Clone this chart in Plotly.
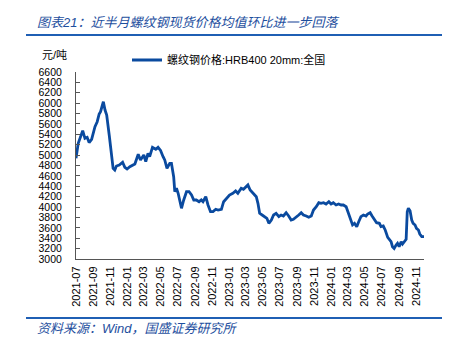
import plotly.graph_objects as go

# 螺纹钢价格:HRB400 20mm:全国 (元/吨)
dates = [
    "2021-07-01", "2021-07-09", "2021-07-25", "2021-08-02", "2021-08-10", "2021-08-17",
    "2021-08-26", "2021-09-07", "2021-09-15", "2021-09-22", "2021-09-27", "2021-10-07",
    "2021-10-13", "2021-10-19", "2021-10-28", "2021-11-04", "2021-11-11", "2021-11-17",
    "2021-11-23", "2021-12-03", "2021-12-15", "2021-12-23", "2021-12-31", "2022-01-10",
    "2022-01-28", "2022-02-09", "2022-02-17", "2022-03-01", "2022-03-08", "2022-03-16",
    "2022-03-22", "2022-04-01", "2022-04-13", "2022-04-21", "2022-04-30", "2022-05-09",
    "2022-05-15", "2022-05-23", "2022-06-02", "2022-06-08", "2022-06-16", "2022-06-20",
    "2022-06-26", "2022-07-02", "2022-07-08", "2022-07-14", "2022-07-22", "2022-08-01",
    "2022-08-10", "2022-08-19", "2022-08-27", "2022-09-05", "2022-09-15", "2022-09-23",
    "2022-09-29", "2022-10-09", "2022-10-17", "2022-10-26", "2022-11-04", "2022-11-14",
    "2022-11-22", "2022-12-04", "2022-12-12", "2022-12-22", "2023-01-02", "2023-01-14",
    "2023-01-24", "2023-02-01", "2023-02-13", "2023-02-21", "2023-03-03", "2023-03-09",
    "2023-03-17", "2023-03-27", "2023-04-08", "2023-04-14", "2023-04-20", "2023-04-29",
    "2023-05-08", "2023-05-16", "2023-05-23", "2023-06-01", "2023-06-09", "2023-06-18",
    "2023-06-28", "2023-07-06", "2023-07-14", "2023-07-24", "2023-08-02", "2023-08-11",
    "2023-08-19", "2023-08-29", "2023-09-07", "2023-09-16", "2023-09-24", "2023-10-04",
    "2023-10-13", "2023-10-22", "2023-10-30", "2023-11-09", "2023-11-18", "2023-11-26",
    "2023-12-05", "2023-12-14", "2023-12-24", "2024-01-01", "2024-01-09", "2024-01-19",
    "2024-01-28", "2024-02-06", "2024-02-14", "2024-02-24", "2024-03-04", "2024-03-13",
    "2024-03-18", "2024-03-25", "2024-04-02", "2024-04-09", "2024-04-17", "2024-04-26",
    "2024-05-05", "2024-05-11", "2024-05-20", "2024-05-27", "2024-06-04", "2024-06-12",
    "2024-06-22", "2024-06-28", "2024-07-06", "2024-07-13", "2024-07-22", "2024-07-28",
    "2024-08-03", "2024-08-08", "2024-08-14", "2024-08-21", "2024-08-26", "2024-09-01",
    "2024-09-08", "2024-09-13", "2024-09-19", "2024-09-26", "2024-09-30", "2024-10-04",
    "2024-10-10", "2024-10-16", "2024-10-21", "2024-10-28", "2024-11-02", "2024-11-09",
    "2024-11-14", "2024-11-21", "2024-11-29",
]
prices = [
    4938, 5227, 5470, 5323, 5343, 5240,
    5304, 5547, 5643, 5791, 5836, 6028,
    5868, 5772, 5387, 5065, 4746, 4713,
    4790, 4810, 4862, 4765, 4733, 4776,
    4828, 5015, 4906, 5002, 4873, 5034,
    4970, 5150, 5112, 5150, 5090, 4970,
    4906, 4746, 4842, 4842, 4584, 4296,
    4361, 4265, 4103, 3976, 4136, 4296,
    4296, 4232, 4136, 4136, 4103, 4136,
    4103, 4199, 4040, 3911, 3911, 3957,
    3943, 3957, 4103, 4168, 4232, 4265,
    4309, 4265, 4361, 4342, 4392, 4425,
    4328, 4276, 4199, 4072, 3880, 3847,
    3815, 3783, 3687, 3751, 3847, 3880,
    3815, 3847, 3828, 3891, 3828, 3751,
    3764, 3803, 3847, 3891, 3847, 3828,
    3803, 3828, 3943, 4007, 4084, 4072,
    4084, 4059, 4103, 4059, 4084, 4040,
    4059, 4040, 4040, 4007, 3880, 3751,
    3655, 3687, 3622, 3718, 3815, 3847,
    3828, 3866, 3891, 3828, 3751, 3699,
    3687, 3622, 3635, 3558, 3417, 3366,
    3333, 3237, 3205, 3270, 3302, 3237,
    3333, 3289, 3333, 3379, 3911, 3976,
    3930, 3751, 3687, 3655, 3591, 3558,
    3481, 3430, 3430,
]

tick_months = [
    "2021-07", "2021-09", "2021-11", "2022-01", "2022-03", "2022-05", "2022-07",
    "2022-09", "2022-11", "2023-01", "2023-03", "2023-05", "2023-07", "2023-09",
    "2023-11", "2024-01", "2024-03", "2024-05", "2024-07", "2024-09", "2024-11",
]
y_ticks = list(range(3000, 6601, 200))

series_name = "螺纹钢价格:HRB400 20mm:全国"
title_text = "图表21：近半月螺纹钢现货价格均值环比进一步回落"
source_text = "资料来源：Wind，国盛证券研究所"
unit_text = "元/吨"

W, H = 449, 344
L, R, T, B = 76, 25, 72, 85
PW, PH = W - L - R, H - T - B


def px(x):
    return (x - L) / PW


def py(y):
    return (H - B - y) / PH


LINE_BLUE = "#0a4a9f"
ACCENT = "#1f5fb4"
TEXT_BLUE = "#1e4f9e"
LATIN = "Liberation Sans, Arial, sans-serif"
CJK = "Liberation Sans, Noto Sans CJK SC, sans-serif"

fig = go.Figure()
fig.add_trace(go.Scatter(
    x=dates, y=prices, mode="lines", name=series_name,
    line=dict(color=LINE_BLUE, width=2.8),
))

fig.update_layout(
    width=W, height=H,
    margin=dict(l=L, r=R, t=T, b=B),
    paper_bgcolor="white", plot_bgcolor="white",
    font=dict(family=CJK, size=11, color="#000000"),
    showlegend=True,
    legend=dict(
        x=px(127), y=py(60), xanchor="left", yanchor="middle",
        bgcolor="rgba(0,0,0,0)", font=dict(size=11, family=CJK),
        itemwidth=30,
    ),
    xaxis=dict(
        type="date",
        range=[dates[0], dates[-1]],
        tickmode="array",
        tickvals=[m + "-01" for m in tick_months],
        ticktext=tick_months,
        tickangle=-90,
        ticks="", showgrid=False, zeroline=False,
        showline=True, linecolor="#555555", linewidth=1,
        tickfont=dict(family=LATIN, size=11, color="#000000"),
        ticklabelstandoff=2,
    ),
    yaxis=dict(
        range=[3000, 6600],
        tickmode="array", tickvals=y_ticks,
        ticktext=[str(v) for v in y_ticks],
        ticks="inside", ticklen=4, tickcolor="#555555",
        showgrid=False, zeroline=False,
        showline=True, linecolor="#555555", linewidth=1,
        tickfont=dict(family=LATIN, size=10.5, color="#000000"),
        ticklabelstandoff=11,
    ),
)

# header / footer rules
for yy in (35, 318):
    fig.add_shape(type="line", xref="paper", yref="paper",
                  x0=px(26), x1=px(442), y0=py(yy), y1=py(yy),
                  line=dict(color=ACCENT, width=2))

fig.add_annotation(xref="paper", yref="paper", x=px(35), y=py(22),
                   xanchor="left", yanchor="middle", showarrow=False,
                   text="<i>" + title_text + "</i>",
                   font=dict(family=CJK, size=13, color=TEXT_BLUE))
fig.add_annotation(xref="paper", yref="paper", x=px(35), y=py(328),
                   xanchor="left", yanchor="middle", showarrow=False,
                   text="<i>" + source_text + "</i>",
                   font=dict(family=CJK, size=13, color=TEXT_BLUE))
fig.add_annotation(xref="paper", yref="paper", x=px(40), y=py(55),
                   xanchor="left", yanchor="middle", showarrow=False,
                   text=unit_text,
                   font=dict(family=CJK, size=11, color="#000000"))

fig.write_html("out.html")
